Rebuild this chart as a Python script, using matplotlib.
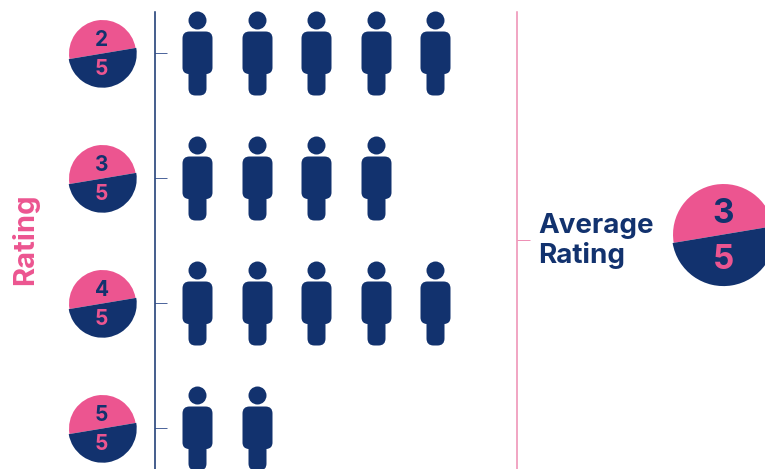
import matplotlib
matplotlib.use("Agg")
import matplotlib.pyplot as plt
import numpy as np
from matplotlib.path import Path

plt.rcParams['font.family'] = ['Inter', 'DejaVu Sans']

ratings = [2, 3, 4, 5]
people = [5, 4, 5, 2]
rating_max = 5
average_rating = 3
axis_title = "Rating"
average_label = "Average\nRating"

NAVY = "#12326e"
PINK = "#ec5590"
PX = 72 / 100  # one pixel in points at dpi 100


def person_marker():
    # body outline in pixels, y up, centred on the row
    v = [(-15, 15), (-15, 22), (-8, 22), (8, 22), (15, 22), (15, 15),
         (15, -14), (15, -20), (9, -20.5), (9, -35), (9, -42), (2, -42),
         (-2, -42), (-9, -42), (-9, -35), (-9, -20.5), (-15, -20), (-15, -14),
         (-15, 15)]
    c = [Path.MOVETO, Path.CURVE3, Path.CURVE3, Path.LINETO, Path.CURVE3, Path.CURVE3,
         Path.LINETO, Path.CURVE3, Path.CURVE3, Path.LINETO, Path.CURVE3, Path.CURVE3,
         Path.LINETO, Path.CURVE3, Path.CURVE3, Path.LINETO, Path.CURVE3, Path.CURVE3,
         Path.LINETO]
    body = Path(v, c)
    head = Path.unit_circle()
    head = Path(head.vertices * 9 + [0, 33], head.codes)
    return Path.make_compound_path(body, head)


def badge(ax, x, y, top, bottom, radius, size, top_dy, bottom_dy):
    # tilted two tone disc with the score over the maximum
    d = radius * 2 * PX
    ax.plot([x], [y], marker=Path.wedge(9.5, 189.5), ms=d, mfc=PINK, mew=0, clip_on=False)
    ax.plot([x], [y], marker=Path.wedge(189.5, 369.5), ms=d, mfc=NAVY, mew=0, clip_on=False)
    for txt, dy, col in [(top, top_dy, NAVY), (bottom, bottom_dy, PINK)]:
        ax.annotate(str(txt), xy=(x, y), xytext=(0, dy * PX), textcoords='offset points',
                    ha='center', va='center_baseline', color=col, fontsize=size,
                    fontweight='bold', annotation_clip=False)


fig = plt.figure(figsize=(7.65, 4.69), dpi=100)
ax = fig.add_axes([155 / 765, 0, (517 - 155) / 765, 457 / 469])
ax.set_xlim(-0.71, 5.374)
ax.set_ylim(5.33, 1.672)

for s in ['top', 'bottom']:
    ax.spines[s].set_visible(False)
ax.spines['left'].set_color(NAVY)
ax.spines['left'].set_linewidth(1.1)
ax.spines['right'].set_visible(False)
ax.set_xticks([])
ax.set_yticks(ratings)
ax.set_yticklabels([])
ax.tick_params(axis='y', direction='in', length=12 * PX, width=0.7, color="#4a639a")

# right hand axis carries the average tick
ax2 = ax.twinx()
ax2.set_ylim(ax.get_ylim())
ax2.set_xticks([])
for s in ['top', 'bottom', 'left']:
    ax2.spines[s].set_visible(False)
ax2.spines['right'].set_color("#ee8db3")
ax2.spines['right'].set_linewidth(1.1)
ax2.set_yticks([3.5])
ax2.set_yticklabels([])
ax2.tick_params(axis='y', direction='out', length=13 * PX, width=0.7, color="#ee8db3")

# one row of people per rating
marker = person_marker()
for r, n in zip(ratings, people):
    ax.plot(np.arange(n), [r] * n, ls='none', marker=marker, ms=84 * PX,
            mfc=NAVY, mew=0, clip_on=False)

# rating badges act as the tick labels
badge_x = (101.5 - 197) / 59.5
for r in ratings:
    badge(ax, badge_x, r, r, rating_max, 34.5, 15, 14.5, -14.5)

ax.text(25 / 765, 229.5 / 469, axis_title, transform=fig.transFigure, rotation=90,
        ha='center', va='center', color=PINK, fontsize=21, fontweight='bold')

# average summary on the right
ax.text(538 / 765, 228 / 469, average_label, transform=fig.transFigure, ha='left',
        va='center', color=NAVY, fontsize=20, fontweight='bold', linespacing=1.1)
badge(ax, (723 - 197) / 59.5, 3.445, average_rating, rating_max, 52, 24, 23.5, -22.5)

fig.savefig("out.png", dpi=100)
